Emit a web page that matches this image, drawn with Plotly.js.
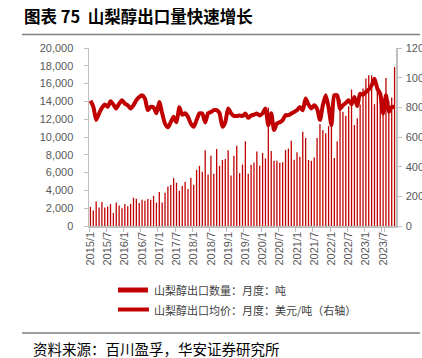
<!DOCTYPE html>
<html>
<head>
<meta charset="utf-8">
<script src="https://cdn.plot.ly/plotly-3.0.1.min.js"></script>
<style>html,body{margin:0;padding:0;background:#fff;}#chart{width:422px;height:358px;}</style>
</head>
<body>
<div id="chart"></div>
<script>
// ---- data (monthly, 2015/1 .. 2023/11) ----
var startYear = 2015;
var monthCount = 107;
var exportVolume = [
  2150,1730,2740,2070,2700,2070,2180,2480,1470,2650,2290,1990,
  2480,2220,2480,3180,3070,2590,2960,2850,3030,2960,3400,2630,
  3820,2630,3750,4450,4600,5380,4860,3970,4490,4970,4150,5420,
  4640,6310,6760,6090,8510,5790,7880,5870,8660,6760,7430,7540,
  8510,5680,7880,9030,5940,6910,9520,5870,6870,7130,8360,6760,
  8210,7580,13320,8440,7320,7320,7100,7170,8550,8700,9590,7430,
  8290,7770,10600,9890,7430,7320,7690,9890,11450,10780,10410,11230,
  11450,7650,9520,14210,12830,12380,13460,15330,11340,12120,13650,15440,
  16560,16930,16930,13690,16070,14690,14210,16630,14060,14440,17860
];
var exportPrice = [
  845,805,715,758,796,819,803,841,819,792,825,848,
  825,814,792,814,848,870,881,859,781,803,800,760,
  836,760,690,665,700,736,700,800,750,760,736,690,
  669,714,760,758,698,760,769,781,781,760,669,700,
  792,760,742,742,745,742,758,729,745,750,758,745,
  760,792,680,760,647,691,700,714,747,747,758,769,
  780,803,780,859,819,792,814,790,714,814,881,800,
  680,881,881,790,814,830,848,820,870,809,892,885,
  903,920,948,993,926,892,758,881,769,803,803
];
var volumeName = "山梨醇出口数量：月度：吨";
var priceName = "山梨醇出口均价：月度：美元/吨（右轴）";
var titleText = "图表 75  山梨醇出口量快速增长";
var sourceText = "资料来源：百川盈孚，华安证券研究所";

var months = [];
for (var i = 0; i < monthCount; i++) {
  var y = startYear + Math.floor(i / 12), m = (i % 12) + 1;
  months.push(y + "/" + m);
}
var tickVals = months.filter(function(_, i){ return i % 6 === 0; });

// ---- layout helpers (pixel -> paper) ----
var L = 89, T = 48, W = 307, H = 178;
function px(x){ return (x - L) / W; }
function py(y){ return (T + H - y) / H; }

var red = "#c00000";
var tickColor = "#595959";
var axisColor = "#bfbfbf";
var cjk = "Noto Sans CJK SC, sans-serif";

var traces = [
  {
    type: "bar", x: months, y: exportVolume, name: volumeName,
    marker: {color: red}, yaxis: "y", showlegend: false
  },
  {
    type: "scatter", mode: "lines", x: months, y: exportPrice, name: priceName,
    line: {color: red, width: 4, shape: "spline", smoothing: 0.6},
    yaxis: "y2", showlegend: false
  }
];

var layout = {
  width: 422, height: 358,
  margin: {l: L, r: 422 - L - W, t: T, b: 358 - T - H, pad: 0},
  paper_bgcolor: "#fff", plot_bgcolor: "#fff",
  bargap: 0.55,
  xaxis: {
    type: "category", tickmode: "array", tickvals: tickVals, ticktext: tickVals,
    tickangle: -90, tickfont: {family: "Arial, Liberation Sans, sans-serif", size: 11, color: tickColor},
    showline: true, linecolor: axisColor, linewidth: 1.5,
    ticks: "outside", ticklen: 4, tickcolor: axisColor, tickson: "boundaries",
    showgrid: false, zeroline: false, range: [-0.5, monthCount - 0.5]
  },
  yaxis: {
    range: [0, 20000], dtick: 2000, tickformat: ",d",
    tickfont: {family: "Arial, Liberation Sans, sans-serif", size: 11, color: tickColor},
    showline: true, linecolor: axisColor, linewidth: 1.5,
    ticks: "outside", ticklen: 4, tickcolor: axisColor, ticklabelstandoff: 8,
    showgrid: false, zeroline: false
  },
  yaxis2: {
    overlaying: "y", side: "right", range: [0, 1200], dtick: 200,
    tickfont: {family: "Arial, Liberation Sans, sans-serif", size: 11, color: tickColor},
    showline: true, linecolor: axisColor, linewidth: 1.5,
    ticks: "outside", ticklen: 4, tickcolor: axisColor, ticklabelstandoff: 2,
    showgrid: false, zeroline: false
  },
  shapes: [
    {type: "line", xref: "paper", yref: "paper", x0: px(22), x1: px(420), y0: py(34.5), y1: py(34.5),
     line: {color: "#7f7f7f", width: 1.5}},
    {type: "line", xref: "paper", yref: "paper", x0: px(22), x1: px(420), y0: py(333), y1: py(333),
     line: {color: "#7f7f7f", width: 1.5}},
    {type: "rect", xref: "paper", yref: "paper", x0: px(118), x1: px(148), y0: py(292.5), y1: py(287.5),
     fillcolor: red, line: {width: 0}},
    {type: "line", xref: "paper", yref: "paper", x0: px(118), x1: px(149), y0: py(309.5), y1: py(309.5),
     line: {color: red, width: 4}}
  ],
  annotations: [
    {xref: "paper", yref: "paper", x: px(22), y: py(16), xanchor: "left", yanchor: "middle",
     text: "<b>" + titleText + "</b>", showarrow: false,
     font: {family: cjk, size: 16.5, color: "#000"}},
    {xref: "paper", yref: "paper", x: px(152), y: py(290), xanchor: "left", yanchor: "middle",
     text: volumeName, showarrow: false, font: {family: cjk, size: 11, color: "#404040"}},
    {xref: "paper", yref: "paper", x: px(152), y: py(309.5), xanchor: "left", yanchor: "middle",
     text: priceName, showarrow: false, font: {family: cjk, size: 11, color: "#404040"}},
    {xref: "paper", yref: "paper", x: px(31), y: py(348), xanchor: "left", yanchor: "middle",
     text: sourceText, showarrow: false, font: {family: cjk, size: 14.5, color: "#000"}}
  ]
};

Plotly.newPlot("chart", traces, layout, {displayModeBar: false, staticPlot: true});
</script>
</body>
</html>
